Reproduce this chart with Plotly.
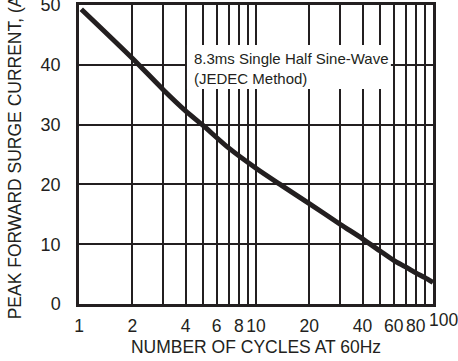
import plotly.graph_objects as go

# Data
cycles = [1.03, 2, 3, 4, 5, 7, 10, 14, 20, 30, 40, 50, 60, 70, 80, 90, 100]
current = [49.3, 41.1, 35.8, 32.3, 29.9, 26.1, 22.7, 19.8, 16.8, 13.3, 10.9, 8.9, 7.3, 6.2, 5.2, 4.4, 3.6]

x_tick_vals = [1, 2, 4, 6, 8, 10, 20, 40, 60, 80, 100]
x_tick_text = ["1", "2", "4", "6", "8", "10", "20", "40", "60", "80", "100"]
x_minor_vals = [3, 5, 7, 9, 30, 50, 70, 90]
y_tick_vals = [0, 10, 20, 30, 40, 50]

note_text = "8.3ms Single Half Sine-Wave<br>(JEDEC Method)"
x_title = "NUMBER OF CYCLES AT 60Hz"
y_title = "PEAK FORWARD SURGE CURRENT, (A)"

INK = "#231f20"
FONT = "Liberation Sans, Arial, sans-serif"
TICK_SIZE = 17.5

# the last x tick label sits slightly right of its grid line in the reference,
# so it is drawn as a text label anchored to its axis value
last_label = x_tick_text[-1]
shown_text = x_tick_text[:-1] + [""]

fig = go.Figure()
fig.add_trace(go.Scatter(
    x=cycles, y=current, mode="lines",
    line=dict(color=INK, width=5, shape="spline", smoothing=0.8),
    hoverinfo="skip", showlegend=False,
))

fig.update_layout(
    width=458, height=361,
    margin=dict(l=79, r=25, t=5, b=57, pad=0, autoexpand=False),
    paper_bgcolor="white", plot_bgcolor="white",
    font=dict(family=FONT, color=INK),
    showlegend=False,
    xaxis=dict(
        type="log", range=[0, 2],
        tickmode="array", tickvals=x_tick_vals, ticktext=shown_text,
        tickangle=0, automargin=False,
        showgrid=True, gridcolor=INK, gridwidth=2,
        minor=dict(tickmode="array", tickvals=x_minor_vals, showgrid=True,
                   gridcolor=INK, gridwidth=2, ticks=""),
        showline=True, linecolor=INK, linewidth=2.5, mirror=True,
        ticks="", ticklabelstandoff=4, ticklabeloverflow="allow",
        tickfont=dict(size=TICK_SIZE, family=FONT, color=INK),
        title=dict(text=x_title, font=dict(size=17.5, family=FONT, color=INK), standoff=6),
        zeroline=False, fixedrange=True, layer="below traces",
    ),
    yaxis=dict(
        range=[0, 50], tickmode="array", tickvals=y_tick_vals,
        automargin=False,
        showgrid=True, gridcolor=INK, gridwidth=2,
        showline=True, linecolor=INK, linewidth=2.5, mirror=True,
        ticks="", ticklabelstandoff=12, ticklabeloverflow="allow",
        tickfont=dict(size=18, family=FONT, color=INK),
        title=dict(text=y_title, font=dict(size=17.5, family=FONT, color=INK), standoff=15),
        zeroline=False, fixedrange=True,
    ),
    shapes=[dict(type="rect", xref="paper", yref="paper",
                 x0=0.305, x1=0.881, y0=0.719, y1=0.866,
                 fillcolor="white", line=dict(width=0), layer="above")],
    annotations=[
        dict(text=note_text, xref="paper", yref="paper",
             x=0.318, y=0.789, xanchor="left", yanchor="middle",
             align="left", showarrow=False,
             font=dict(size=15, family=FONT, color=INK)),
        dict(text=last_label, xref="x", yref="paper",
             x=2, y=0, xanchor="center", yanchor="top",
             xshift=10, yshift=-4, showarrow=False,
             font=dict(size=TICK_SIZE, family=FONT, color=INK)),
    ],
)

fig.write_html("out.html", config={"displayModeBar": False},
               post_script="document.body.style.margin='0';")
